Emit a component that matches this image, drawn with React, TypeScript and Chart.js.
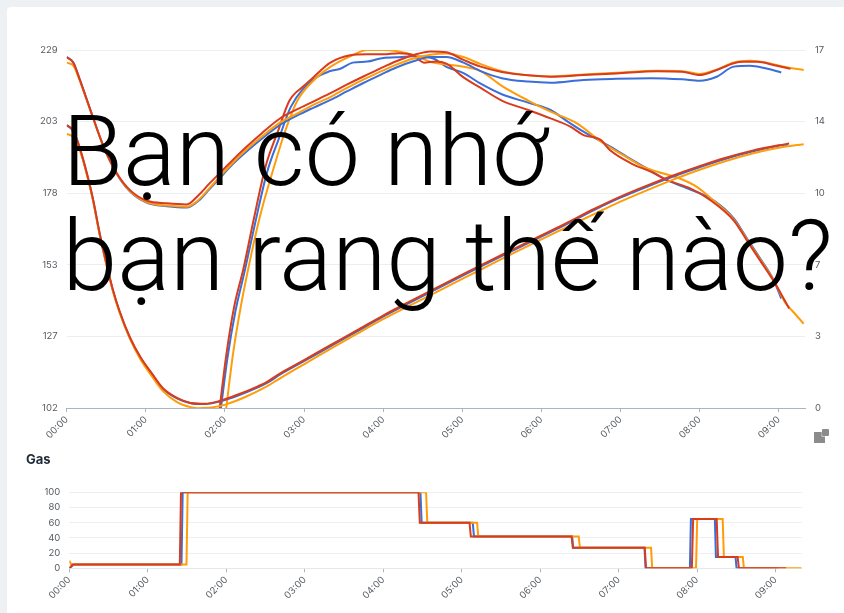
import React, { useEffect, useRef } from "react";
import { Chart, registerables } from "chart.js";

Chart.register(...registerables);

// ---- Data (time in seconds, value) ----
const leftTickLabels = ["102", "127", "153", "178", "203", "229"];
const rightTickLabels = ["0", "3", "7", "10", "14", "17"];
const gasTickLabels = ["0", "20", "40", "60", "80", "100"];

const redET: [number, number][] = [
  [0, 226.4], [5, 224.5], [10, 218.4], [18, 207.7], [28, 194.7], [38, 185.3], [48, 179.3], [61, 175.5],
  [76, 174.6], [91, 174.2], [100, 177.5], [108, 181.5], [116, 185.3], [126, 190], [136, 194.5], [148, 199.5],
  [162, 204.8], [175, 208], [187, 210.7], [200, 213.7], [212, 216.6], [225, 219.6], [238, 222.5], [250, 225],
  [263, 227.2], [276, 228.5], [288, 228.2], [301, 225.5], [314, 223.1], [330, 221.2], [350, 220], [367, 219.5],
  [392, 220.1], [417, 220.7], [448, 221.5], [467, 221.3], [480, 220.1], [493, 221.9], [506, 224.3], [513, 224.8],
  [524, 224.8], [536, 223.7], [549, 222.3],
];
const blueET: [number, number][] = [
  [0, 226.5], [5, 224.6], [10, 218.4], [18, 207.7], [28, 194.7], [38, 185], [48, 178.8], [61, 174.8],
  [76, 173.6], [91, 173.1], [100, 175.5], [108, 179.5], [116, 183.5], [126, 188.5], [136, 192.8], [148, 197.5],
  [162, 202.5], [175, 205.8], [187, 208.5], [200, 211.3], [212, 214.2], [225, 217.3], [238, 220.2], [250, 222.8],
  [263, 225], [276, 226.5], [288, 226.5], [301, 224.5], [314, 221.5], [330, 219], [350, 217.8], [367, 217.4],
  [392, 218.4], [417, 218.8], [443, 219], [467, 218.6], [480, 218.1], [493, 219.5], [506, 223.1], [518, 223.4],
  [530, 222.5], [542, 221],
];
const orangeET: [number, number][] = [
  [0, 224.5], [5, 223.5], [10, 218], [18, 207.5], [28, 194.7], [38, 185.2], [48, 179], [61, 175],
  [76, 173.8], [91, 173.4], [100, 175.8], [108, 179.8], [116, 184], [126, 189], [136, 193.5], [148, 198.3],
  [162, 203.3], [175, 206.5], [187, 209.5], [200, 212.3], [212, 215.4], [225, 218.5], [238, 221.3], [250, 223.8],
  [263, 226], [276, 227.3], [288, 227.8], [301, 226.5], [314, 224], [330, 221.5], [350, 220], [367, 219.6],
  [392, 220.3], [417, 220.9], [448, 221.6], [467, 221.5], [480, 220.5], [493, 222], [506, 224.6], [518, 225.2],
  [530, 224.6], [545, 223], [559, 221.9],
];

const redBT: [number, number][] = [
  [0, 202.4], [4, 201], [8, 197], [12, 191], [16, 184], [20, 176], [25, 164], [30, 153.5], [35, 144],
  [40, 136.5], [48, 127], [56, 120], [65, 114], [73, 109], [84, 105.5], [94, 103.8], [105, 103.5], [116, 104.5],
  [130, 106.8], [145, 109.7], [152, 111.3], [162, 114.3], [180, 119], [200, 124.3], [220, 129.5], [240, 134.8],
  [260, 139.7], [280, 144.5], [300, 149.3], [320, 154], [340, 158.6], [360, 163.2], [380, 167.8], [400, 172.6],
  [420, 177], [440, 180.9], [460, 184.5], [480, 187.8], [500, 190.8], [520, 193.3], [540, 195.2], [548, 195.8],
];
const blueBT: [number, number][] = [
  [0, 202.2], [4, 200.8], [8, 196.8], [12, 190.8], [16, 183.8], [20, 175.8], [25, 163.8], [30, 153.3], [35, 143.8],
  [40, 136.3], [48, 126.8], [56, 119.8], [65, 113.8], [73, 108.8], [84, 105.3], [94, 103.7], [105, 103.4], [116, 104.3],
  [130, 106.4], [145, 109.3], [152, 110.9], [162, 113.9], [180, 118.6], [200, 123.9], [220, 129.1], [240, 134.4],
  [260, 139.3], [280, 144.1], [300, 148.9], [320, 153.6], [340, 158.2], [360, 162.8], [380, 167.4], [400, 172.2],
  [420, 176.6], [440, 180.5], [460, 184.1], [480, 187.4], [500, 190.4], [520, 193], [540, 195], [547, 195.5],
];
const orangeBT: [number, number][] = [
  [0, 199.2], [4, 198.5], [8, 195.5], [12, 190.5], [16, 183.5], [20, 175.5], [25, 163.5], [30, 153], [35, 143.5],
  [40, 136], [48, 126.5], [56, 119.2], [65, 113], [73, 108], [84, 104], [94, 102.3], [100, 101.9], [110, 102.2],
  [121, 103.3], [135, 105.8], [150, 109.2], [160, 112], [170, 114.8], [180, 117.5], [200, 123], [220, 128.3],
  [240, 133.5], [260, 138.3], [280, 143], [300, 147.8], [320, 152.5], [340, 157.2], [360, 161.8], [380, 166.3],
  [400, 170.8], [420, 175.2], [440, 179.2], [460, 183], [480, 186.5], [500, 189.6], [520, 192.3], [540, 194.3],
  [559, 195.6],
];

const redRoR: [number, number][] = [
  [116, 0], [121, 2.5], [127, 4.8], [134, 6.6], [142, 9.0], [151, 11.5], [160, 13.1], [169, 14.6], [180, 15.3],
  [187, 15.7], [200, 16.4], [215, 16.75], [228, 16.8], [240, 16.8], [252, 16.85], [263, 16.75], [271, 16.4],
  [280, 16.45], [288, 16.35], [301, 15.7], [314, 15.2], [330, 14.6], [350, 14.15], [367, 13.75], [382, 13.36],
  [392, 12.96], [405, 12.73], [412, 12.25], [428, 11.62], [443, 11.22], [455, 10.83], [473, 10.43], [488, 9.88],
  [506, 8.9], [516, 7.95], [526, 7.0], [536, 6.05], [548, 4.73],
];
const blueRoR: [number, number][] = [
  [117, 0], [122, 2.4], [128, 4.6], [135, 6.5], [143, 8.8], [152, 11.2], [161, 12.8], [170, 14.3], [187, 15.6],
  [200, 16.0], [207, 16.1], [217, 16.4], [228, 16.45], [238, 16.6], [250, 16.65], [263, 16.7], [278, 16.6],
  [288, 16.2], [301, 15.9], [314, 15.4], [330, 14.9], [350, 14.5], [367, 14.15], [380, 13.6], [392, 13.12],
  [410, 12.49], [425, 11.93], [440, 11.38], [455, 10.83], [468, 10.5], [490, 9.88], [506, 9.0], [516, 8.05],
  [526, 7.1], [536, 6.1], [542, 5.2],
];
const orangeRoR: [number, number][] = [
  [121, 0], [126, 2.5], [132, 4.8], [139, 7], [147, 9.2], [157, 11.4], [166, 13.2], [175, 14.6], [188, 15.6],
  [200, 16.2], [215, 16.7], [228, 17.0], [240, 17.0], [250, 16.95], [263, 16.76], [278, 16.4], [290, 16.3],
  [301, 16.2], [314, 16.0], [330, 15.3], [350, 14.6], [367, 14.07], [387, 13.52], [407, 12.57], [422, 12.01],
  [437, 11.46], [448, 11.22], [465, 10.9], [478, 10.5], [490, 9.88], [506, 8.95], [516, 8.0], [526, 7.05],
  [536, 6.1], [545, 5.0], [551, 4.57], [559, 4.0],
];

const redGas: [number, number][] = [
  [0, 0], [2.6, 5], [84.5, 5], [85.4, 100], [267, 100], [268, 60], [306, 60], [307, 42], [384, 42], [385, 27],
  [440, 27], [441, 0], [476, 0], [477, 65], [495, 65], [496, 15], [511, 15], [512, 0], [548, 0],
];
const blueGas: [number, number][] = [
  [0, 0], [3.5, 5], [85.8, 5], [86.7, 100], [268.5, 100], [269.4, 60], [308.5, 60], [309.4, 42], [384.5, 42],
  [385.3, 27], [439.8, 27], [440.6, 0], [474.5, 0], [475.3, 65], [493.6, 65], [494.4, 15], [509.4, 15], [510.2, 0],
  [542, 0],
];
const orangeGas: [number, number][] = [
  [0, 10], [1.5, 5], [89.6, 5], [90.5, 100], [272.8, 100], [273.7, 60], [311.8, 60], [312.7, 42], [389.5, 42],
  [390.4, 27], [444.8, 27], [445.7, 0], [479.2, 0], [480.1, 65], [499.6, 65], [500.5, 15], [515, 15], [515.8, 0],
  [560, 0],
];

const RED = "#d83c1c";
const BLUE = "#3a6ed8";
const ORANGE = "#ff9c0a";
const GRID = "#eceff2";
const AXIS = "#a8b6c2";
const TICK_FONT = { family: "Inter", size: 9.5 };
const TICK_COLOR = "#555b61";

const fmt = (v: number) => {
  const m = Math.floor(v / 60);
  const s = Math.round(v % 60);
  return `${String(m).padStart(2, "0")}:${String(s).padStart(2, "0")}`;
};

const pts = (a: [number, number][]) => a.map(([x, y]) => ({ x, y }));

function lineDs(data: [number, number][], color: string, axis: string, stepped = false) {
  return {
    data: pts(data),
    borderColor: color,
    backgroundColor: color,
    borderWidth: 2,
    pointRadius: 0,
    yAxisID: axis,
    tension: stepped ? 0 : 0.4,
    cubicInterpolationMode: stepped ? "default" : "monotone",
    fill: false,
  } as any;
}

function evenTicks(min: number, max: number, n: number) {
  const out: { value: number }[] = [];
  for (let i = 0; i < n; i++) out.push({ value: min + ((max - min) * i) / (n - 1) });
  return out;
}

const xScale = (w: number, h: number) => ({
  type: "linear",
  min: 0,
  max: 560,
  afterFit: (s: any) => {
    s.height = h;
  },
  ticks: {
    stepSize: 60,
    includeBounds: false,
    minRotation: 45,
    maxRotation: 45,
    autoSkip: false,
    padding: 2,
    font: TICK_FONT,
    color: TICK_COLOR,
    callback: (v: any) => fmt(Number(v)),
  },
  grid: { drawOnChartArea: false, drawTicks: true, tickLength: 4, tickColor: AXIS, color: AXIS },
  border: { display: true, color: w ? AXIS : "#e3e8ec" },
});

export default function App() {
  const topRef = useRef<HTMLCanvasElement | null>(null);
  const gasRef = useRef<HTMLCanvasElement | null>(null);

  useEffect(() => {
    document.body.style.margin = "0";
    document.body.style.background = "#eef1f3";
    const top = new Chart(topRef.current!, {
      type: "line",
      data: {
        datasets: [
          lineDs(redET, RED, "yL"),
          lineDs(orangeET, ORANGE, "yL"),
          lineDs(blueET, BLUE, "yL"),
          lineDs(redBT, RED, "yL"),
          lineDs(orangeBT, ORANGE, "yL"),
          lineDs(blueBT, BLUE, "yL"),
          lineDs(redRoR, RED, "yR"),
          lineDs(orangeRoR, ORANGE, "yR"),
          lineDs(blueRoR, BLUE, "yR"),
        ],
      },
      options: {
        responsive: false,
        animation: false,
        devicePixelRatio: 1,
        layout: { padding: { top: 50, left: 0, right: 0, bottom: 0 } },
        plugins: { legend: { display: false }, tooltip: { enabled: false } },
        scales: {
          x: xScale(1, 44) as any,
          yL: {
            type: "linear",
            position: "left",
            min: 102,
            max: 229,
            afterFit: (s: any) => {
              s.width = 66.7;
            },
            afterBuildTicks: (s: any) => {
              s.ticks = evenTicks(102, 229, 6);
            },
            ticks: {
              padding: 9,
              font: TICK_FONT,
              color: TICK_COLOR,
              callback: (_v: any, i: number) => leftTickLabels[i],
            },
            grid: { color: GRID, drawTicks: false },
            border: { display: false },
          },
          yR: {
            type: "linear",
            position: "right",
            min: 0,
            max: 17,
            afterFit: (s: any) => {
              s.width = 39;
            },
            afterBuildTicks: (s: any) => {
              s.ticks = evenTicks(0, 17, 6);
            },
            ticks: {
              padding: 10,
              font: TICK_FONT,
              color: TICK_COLOR,
              callback: (_v: any, i: number) => rightTickLabels[i],
            },
            grid: { drawOnChartArea: false, drawTicks: false },
            border: { display: false },
          },
        },
      } as any,
    });

    const gas = new Chart(gasRef.current!, {
      type: "line",
      data: {
        datasets: [
          lineDs(redGas, RED, "y", true),
          lineDs(orangeGas, ORANGE, "y", true),
          lineDs(blueGas, BLUE, "y", true),
        ],
      },
      options: {
        responsive: false,
        animation: false,
        devicePixelRatio: 1,
        layout: { padding: { top: 52.3, left: 0, right: 42.3, bottom: 0 } },
        plugins: { legend: { display: false }, tooltip: { enabled: false } },
        scales: {
          x: xScale(0, 44.7) as any,
          y: {
            type: "linear",
            min: 0,
            max: 100,
            afterFit: (s: any) => {
              s.width = 69.3;
            },
            afterBuildTicks: (s: any) => {
              s.ticks = evenTicks(0, 100, 6);
            },
            ticks: {
              padding: 9,
              font: TICK_FONT,
              color: TICK_COLOR,
              callback: (_v: any, i: number) => gasTickLabels[i],
            },
            grid: { color: GRID, drawTicks: false },
            border: { display: false },
          },
        },
      } as any,
    });

    return () => {
      top.destroy();
      gas.destroy();
    };
  }, []);

  return (
    <div style={{ position: "fixed", left: 0, top: 0, width: 844, height: 613, overflow: "hidden", background: "#eef1f3" }}>
      <div style={{ position: "absolute", left: 7, top: 7, width: 900, height: 700, background: "#ffffff", borderRadius: 4 }} />
      <canvas ref={topRef} width={844} height={452} style={{ position: "absolute", left: 0, top: 0, width: 844, height: 452 }} />
      <div
        style={{
          position: "absolute",
          left: 26,
          top: 451,
          fontFamily: "Inter, sans-serif",
          fontWeight: 700,
          fontSize: 13,
          lineHeight: "16px",
          color: "#1e2a36",
        }}
      >
        Gas
      </div>
      <canvas ref={gasRef} width={844} height={173} style={{ position: "absolute", left: 0, top: 440, width: 844, height: 173 }} />
      <div style={{ position: "absolute", left: 822, top: 429, width: 7, height: 7, background: "#8b8b8b", borderRadius: 1 }} />
      <div
        style={{
          position: "absolute",
          left: 814,
          top: 432,
          width: 11,
          height: 11,
          background: "#8b8b8b",
          clipPath: "polygon(0 0, 70% 0, 70% 40%, 100% 40%, 100% 100%, 0 100%)",
        }}
      />
      <div
        style={{
          position: "absolute",
          left: 62.5,
          top: 98.5,
          fontFamily: "Roboto, sans-serif",
          fontWeight: 300,
          fontSize: 98.5,
          lineHeight: "105px",
          color: "#000",
          whiteSpace: "nowrap",
          pointerEvents: "none",
        }}
      >
        Bạn có nhớ
        <br />
        bạn rang thế nào?
      </div>
    </div>
  );
}
